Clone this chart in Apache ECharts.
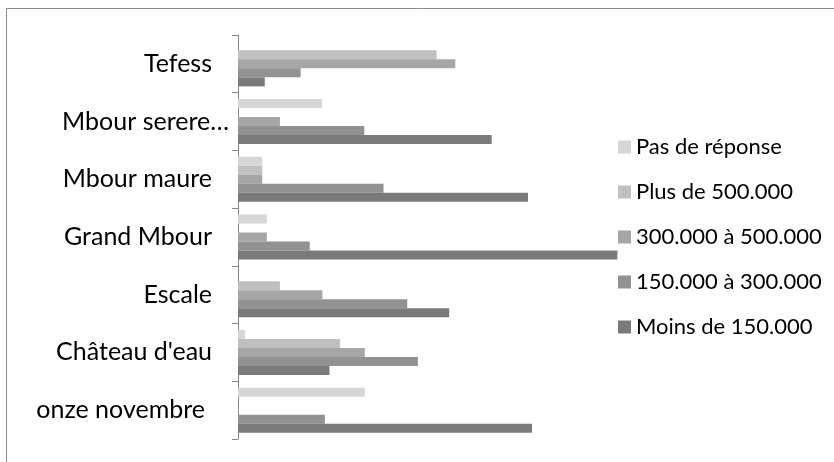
<!DOCTYPE html>
<html>
<head>
<meta charset="utf-8">
<script src="https://cdn.jsdelivr.net/npm/echarts@6/dist/echarts.min.js"></script>
<style>
html,body{margin:0;padding:0;background:#fff;}
#chart{width:834px;height:462px;}
</style>
</head>
<body>
<div id="chart"></div>
<script>
// Categories from top to bottom
const categories = ["Tefess", "Mbour serere…", "Mbour maure", "Grand Mbour", "Escale", "Château d'eau", "onze novembre"];
const seriesNames = ["Pas de réponse", "Plus de 500.000", "300.000 à 500.000", "150.000 à 300.000", "Moins de 150.000"];
// Values (%), same order as categories
const pasDeReponse = [0, 16.6, 4.8, 5.7, 0, 1.4, 25.1];
const plusDe500 = [39.3, 0, 4.8, 0, 8.3, 20.2, 0];
const de300a500 = [43.0, 8.3, 4.8, 5.7, 16.7, 25.1, 0];
const de150a300 = [12.4, 25.0, 28.8, 14.2, 33.5, 35.6, 17.2];
const moinsDe150 = [5.3, 50.2, 57.4, 75.1, 41.8, 18.1, 58.2];

const seriesData = [pasDeReponse, plusDe500, de300a500, de150a300, moinsDe150];
const colors = ["#d6d6d6", "#c0c0c0", "#a6a6a6", "#929292", "#7a7a7a"];

const labelPad = {
  "Mbour serere…": [0, -17, 0, 0],
  "onze novembre": [0, 7, 0, 0]
};

const chart = echarts.init(document.getElementById('chart'), null, {renderer: 'canvas'});
chart.setOption({
  animation: false,
  backgroundColor: '#fff',
  color: colors,
  graphic: [{
    type: 'rect',
    shape: {x: 6.5, y: 8.5, width: 900, height: 600},
    style: {fill: 'none', stroke: '#8c8c8c', lineWidth: 1},
    silent: true
  }],
  grid: {left: 238, top: 35, width: 384, height: 404},
  legend: {
    orient: 'vertical',
    left: 613,
    top: 131,
    itemWidth: 13,
    itemHeight: 13,
    itemGap: 23,
    icon: 'rect',
    textStyle: {fontFamily: 'Lato', fontSize: 22, color: '#000'},
    data: seriesNames
  },
  xAxis: {
    type: 'value', min: 0, max: 76,
    show: false,
    splitLine: {show: false}
  },
  yAxis: {
    type: 'category',
    inverse: true,
    data: categories.map(c => labelPad[c] ? {value: c, textStyle: {padding: labelPad[c]}} : c),
    axisLine: {lineStyle: {color: '#868686', width: 1}},
    axisTick: {show: true, length: 6, lineStyle: {color: '#868686'}},
    axisLabel: {margin: 26, fontFamily: 'Lato', fontSize: 25, color: '#000'}
  },
  series: seriesNames.map((name, i) => ({
    name: name,
    type: 'bar',
    data: seriesData[i],
    barGap: '0%',
    barCategoryGap: '22%',
    itemStyle: {color: colors[i]}
  }))
});
</script>
</body>
</html>
